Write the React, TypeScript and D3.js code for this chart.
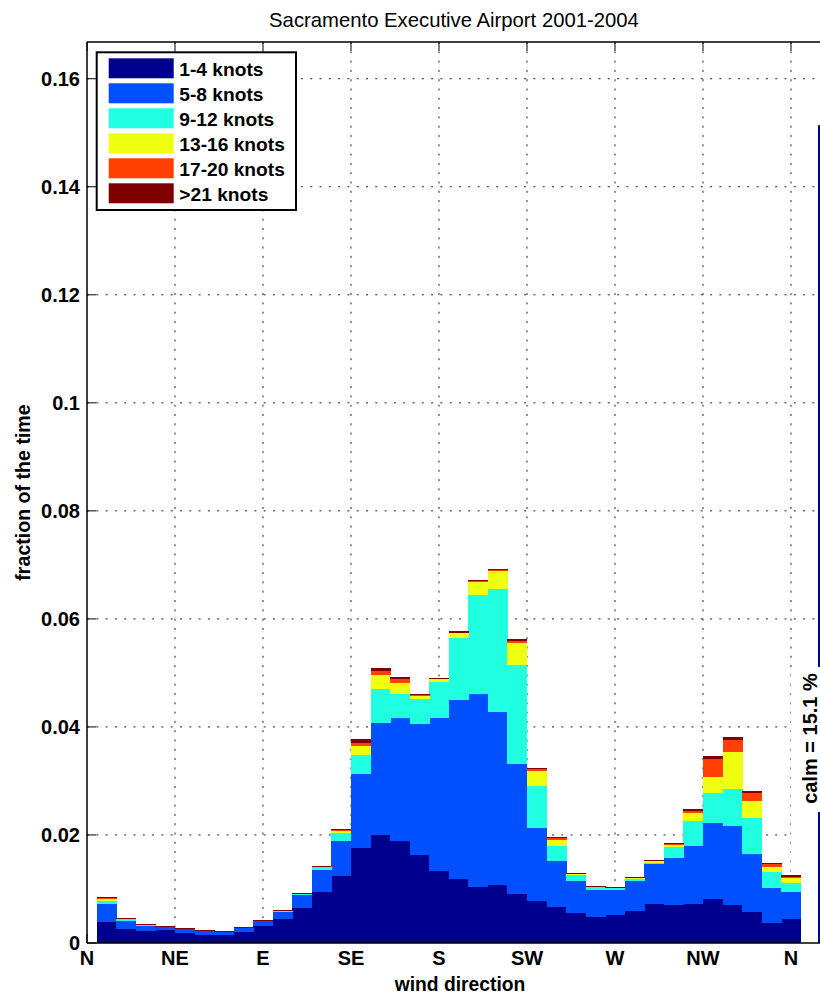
import React from "react";
import * as d3 from "d3";

// ---------- data ----------
const DIRECTIONS = [10, 20, 30, 40, 50, 60, 70, 80, 90, 100, 110, 120, 130, 140, 150, 160, 170, 180,
  190, 200, 210, 220, 230, 240, 250, 260, 270, 280, 290, 300, 310, 320, 330, 340, 350, 360];

const SPEED_CLASSES = ["1-4 knots", "5-8 knots", "9-12 knots", "13-16 knots", "17-20 knots", ">21 knots"];
const COLORS = ["#00008F", "#0050FF", "#20FFDF", "#EFFF10", "#FF4000", "#800000"];

const KNOTS_1_4 = [0.0039, 0.0025, 0.0023, 0.0024, 0.0018, 0.0015, 0.0015, 0.0021, 0.0031, 0.0044, 0.0065, 0.0095,
  0.0124, 0.0175, 0.0200, 0.0189, 0.0162, 0.0133, 0.0118, 0.0103, 0.0108, 0.0090, 0.0077, 0.0067,
  0.0056, 0.0049, 0.0051, 0.0059, 0.0073, 0.0071, 0.0073, 0.0082, 0.0070, 0.0058, 0.0037, 0.0044];
const KNOTS_5_8 = [0.0033, 0.0016, 0.0009, 0.0005, 0.0007, 0.0007, 0.0006, 0.0006, 0.0009, 0.0014, 0.0023, 0.0040,
  0.0064, 0.0137, 0.0208, 0.0227, 0.0243, 0.0283, 0.0331, 0.0358, 0.0320, 0.0241, 0.0135, 0.0085,
  0.0059, 0.0050, 0.0047, 0.0055, 0.0073, 0.0087, 0.0107, 0.0141, 0.0147, 0.0107, 0.0065, 0.0050];
const KNOTS_9_12 = [0.0006, 0.0003, 0.0001, 0.0001, 0.0001, 0.0000, 0.0000, 0.0000, 0.0000, 0.0001, 0.0002, 0.0005,
  0.0015, 0.0036, 0.0063, 0.0045, 0.0047, 0.0067, 0.0116, 0.0184, 0.0228, 0.0183, 0.0078, 0.0028,
  0.0011, 0.0004, 0.0003, 0.0005, 0.0003, 0.0020, 0.0045, 0.0055, 0.0069, 0.0067, 0.0030, 0.0018];
const KNOTS_13_16 = [0.0004, 0.0001, 0.0000, 0.0000, 0.0000, 0.0000, 0.0001, 0.0001, 0.0001, 0.0000, 0.0001, 0.0001,
  0.0004, 0.0016, 0.0025, 0.0020, 0.0005, 0.0005, 0.0008, 0.0024, 0.0033, 0.0041, 0.0029, 0.0011,
  0.0002, 0.0001, 0.0001, 0.0001, 0.0002, 0.0004, 0.0015, 0.0030, 0.0067, 0.0031, 0.0009, 0.0008];
const KNOTS_17_20 = [0.0001, 0.0001, 0.0001, 0.0001, 0.0001, 0.0001, 0.0000, 0.0000, 0.0001, 0.0001, 0.0001, 0.0001,
  0.0002, 0.0007, 0.0008, 0.0008, 0.0002, 0.0001, 0.0001, 0.0001, 0.0001, 0.0004, 0.0003, 0.0003,
  0.0000, 0.0000, 0.0000, 0.0000, 0.0001, 0.0001, 0.0005, 0.0032, 0.0022, 0.0014, 0.0005, 0.0003];
const KNOTS_21_PLUS = [0.0002, 0.0001, 0.0001, 0.0001, 0.0001, 0.0001, 0.0001, 0.0001, 0.0001, 0.0001, 0.0001, 0.0001,
  0.0002, 0.0006, 0.0006, 0.0004, 0.0002, 0.0002, 0.0003, 0.0002, 0.0002, 0.0003, 0.0002, 0.0002,
  0.0002, 0.0002, 0.0002, 0.0002, 0.0001, 0.0002, 0.0003, 0.0006, 0.0006, 0.0004, 0.0003, 0.0002];

const CALM = 0.1514;
const CALM_DIR = 379;

const X_TICKS = [0, 45, 90, 135, 180, 225, 270, 315, 360];
const X_TICK_LABELS = ["N", "NE", "E", "SE", "S", "SW", "W", "NW", "N"];
const Y_TICKS = [0, 0.02, 0.04, 0.06, 0.08, 0.1, 0.12, 0.14, 0.16];
const Y_TICK_LABELS = ["0", "0.02", "0.04", "0.06", "0.08", "0.1", "0.12", "0.14", "0.16"];

const TITLE = "Sacramento Executive Airport 2001-2004";
const X_LABEL = "wind direction";
const Y_LABEL = "fraction of the time";

// ---------- layout ----------
const W = 820;
const H = 996;
const LEFT = 87;
const RIGHT = 830.1;
const TOP = 42;
const BOTTOM = 943;
const FONT = "'Liberation Sans', Arial, Helvetica, sans-serif";

export default function App() {
  const x = d3.scaleLinear().domain([0, 380]).range([LEFT, RIGHT]);
  const y = d3.scaleLinear().domain([0, 0.1668]).range([BOTTOM, TOP]);

  const seriesArrays = [KNOTS_1_4, KNOTS_5_8, KNOTS_9_12, KNOTS_13_16, KNOTS_17_20, KNOTS_21_PLUS];
  const rows = DIRECTIONS.map((dir, i) => {
    const r: any = { dir };
    SPEED_CLASSES.forEach((k, j) => (r[k] = seriesArrays[j][i]));
    return r;
  });
  const stacked = d3.stack().keys(SPEED_CLASSES)(rows as any);
  const tickLen = 9;
  const calmText = `calm = ${(CALM * 100).toFixed(1)} %`;

  return (
    <svg
      width={W}
      height={H}
      style={{ position: "absolute", left: 0, top: 0, background: "#fff" }}
      fontFamily={FONT}
    >
      <defs>
        <clipPath id="plotClip">
          <rect x={LEFT} y={TOP} width={RIGHT - LEFT} height={BOTTOM - TOP} />
        </clipPath>
      </defs>
      <rect x={0} y={0} width={W} height={H} fill="#fff" />

      {/* grid */}
      <g stroke="#222" strokeWidth={1} strokeDasharray="2,7.3" clipPath="url(#plotClip)">
        {Y_TICKS.filter((t) => t > 0).map((t) => (
          <line key={"gy" + t} x1={LEFT} x2={RIGHT} y1={y(t)} y2={y(t)} />
        ))}
        {X_TICKS.filter((t) => t > 0).map((t) => (
          <line key={"gx" + t} x1={x(t)} x2={x(t)} y1={TOP} y2={BOTTOM} />
        ))}
      </g>

      {/* ticks */}
      <g stroke="#000" strokeWidth={1}>
        {Y_TICKS.map((t) => (
          <line key={"ty" + t} x1={LEFT} x2={LEFT + tickLen} y1={y(t)} y2={y(t)} />
        ))}
        {X_TICKS.map((t) => (
          <g key={"tx" + t}>
            <line x1={x(t)} x2={x(t)} y1={TOP} y2={TOP + tickLen} />
            <line x1={x(t)} x2={x(t)} y1={BOTTOM} y2={BOTTOM - tickLen} />
          </g>
        ))}
      </g>

      {/* blank region next to calm annotation */}
      <rect x={791} y={667} width={27} height={BOTTOM - 667} fill="#fff" />

      {/* stacked bars */}
      <g clipPath="url(#plotClip)" shapeRendering="crispEdges">
        {stacked.map((layer, j) => (
          <g key={layer.key} fill={COLORS[j]}>
            {layer.map((seg: any, i: number) => {
              const dir = DIRECTIONS[i];
              const y0 = y(seg[0]);
              const y1 = y(seg[1]);
              return (
                <rect
                  key={i}
                  x={x(dir - 5)}
                  width={x(dir + 5) - x(dir - 5) + 0.5}
                  y={y1}
                  height={Math.max(0, y0 - y1)}
                />
              );
            })}
          </g>
        ))}
        {/* thin top edge of the last class */}
        {DIRECTIONS.map((dir, i) => {
          const top = stacked[stacked.length - 1][i][1];
          return (
            <line
              key={"edge" + i}
              x1={x(dir - 5)}
              x2={x(dir + 5)}
              y1={y(top) + 0.5}
              y2={y(top) + 0.5}
              stroke={COLORS[5]}
              strokeWidth={1}
            />
          );
        })}
        {/* calm bar */}
        <rect
          x={x(CALM_DIR - 5)}
          width={x(CALM_DIR + 5) - x(CALM_DIR - 5)}
          y={y(CALM)}
          height={y(0) - y(CALM)}
          fill={COLORS[0]}
        />
        <line
          x1={x(CALM_DIR - 5)}
          x2={x(CALM_DIR + 5)}
          y1={y(CALM) + 0.5}
          y2={y(CALM) + 0.5}
          stroke={COLORS[5]}
          strokeWidth={1}
        />
      </g>

      {/* axes lines */}
      <g stroke="#000" strokeWidth={1.5} fill="none">
        <line x1={LEFT} x2={LEFT} y1={TOP} y2={BOTTOM} />
        <line x1={LEFT} x2={RIGHT} y1={BOTTOM} y2={BOTTOM} />
        <line x1={LEFT} x2={RIGHT} y1={TOP} y2={TOP} />
        <line x1={RIGHT} x2={RIGHT} y1={TOP} y2={BOTTOM} />
      </g>

      {/* calm annotation */}
      <rect x={799} y={667} width={23} height={145} fill="#fff" />
      <text
        transform={`translate(816.5, ${y(CALM / 4)}) rotate(-90)`}
        textAnchor="middle"
        fontSize={20}
        fontWeight="bold"
        fill="#000"
      >
        {calmText}
      </text>

      {/* tick labels */}
      <g fontSize={20} fontWeight="bold" fill="#000">
        {Y_TICKS.map((t, i) => (
          <text key={"ly" + t} x={80} y={y(t)} dy="0.35em" textAnchor="end">
            {Y_TICK_LABELS[i]}
          </text>
        ))}
        {X_TICKS.map((t, i) => (
          <text key={"lx" + t} x={x(t)} y={965} textAnchor="middle">
            {X_TICK_LABELS[i]}
          </text>
        ))}
      </g>

      {/* labels */}
      <text x={454} y={27} textAnchor="middle" fontSize={20.3} fill="#000">
        {TITLE}
      </text>
      <text x={460} y={991} textAnchor="middle" fontSize={19.3} fontWeight="bold" fill="#000">
        {X_LABEL}
      </text>
      <text
        transform={`translate(30, ${(TOP + BOTTOM) / 2}) rotate(-90)`}
        textAnchor="middle"
        fontSize={19.6}
        fontWeight="bold"
        fill="#000"
      >
        {Y_LABEL}
      </text>

      {/* legend */}
      <g>
        <rect x={96.7} y={52.3} width={199.3} height={157.7} fill="#fff" stroke="#000" strokeWidth={2} />
        {SPEED_CLASSES.map((name, i) => (
          <g key={name}>
            <rect x={108.7} y={58.3 + 25 * i} width={65} height={20} fill={COLORS[i]} />
            <text x={179.3} y={58.3 + 25 * i + 17.7} fontSize={19.2} fontWeight="bold" fill="#000">
              {name}
            </text>
          </g>
        ))}
      </g>
    </svg>
  );
}
